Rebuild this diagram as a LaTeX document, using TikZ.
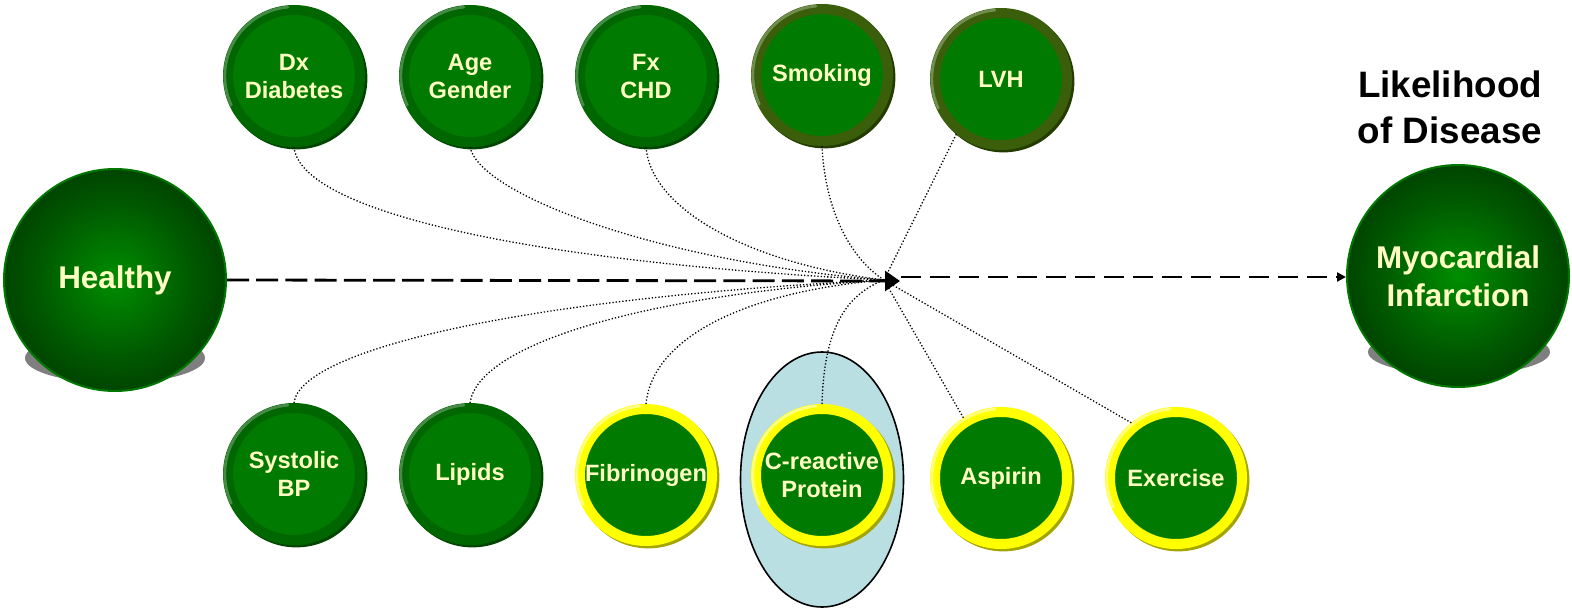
\documentclass[tikz,border=0pt]{standalone}
\usepackage{fontspec}
\setmainfont{Liberation Sans}
\usetikzlibrary{arrows.meta,shadows}

\definecolor{leafgreen}{HTML}{007A00}
\definecolor{ringgreen}{HTML}{006600}
\definecolor{ringshade}{HTML}{004600}
\definecolor{ringlight}{HTML}{5A955A}
\definecolor{olivering}{HTML}{3B5E0B}
\definecolor{oliveshade}{HTML}{243C00}
\definecolor{olivelight}{HTML}{7F9A62}
\definecolor{yellowring}{HTML}{FFFF00}
\definecolor{yellowshade}{HTML}{A5A500}
\definecolor{yellowlight}{HTML}{FFFF9A}
\definecolor{cream}{HTML}{FFFFC4}
\definecolor{ballcore}{HTML}{008E00}
\definecolor{ballmid}{HTML}{005A00}
\definecolor{balledge}{HTML}{003000}
\definecolor{ballrim}{HTML}{007800}
\definecolor{halo}{HTML}{7F7F7F}
\definecolor{capsule}{HTML}{B9DFE2}

\pgfdeclareradialshading{ballshade}{\pgfpoint{0bp}{0bp}}{color(0bp)=(ballcore); color(17bp)=(ballmid); color(33bp)=(balledge); color(50bp)=(balledge)}

\tikzset{
  factor/.style={circle, minimum size=66pt, inner sep=0pt, line width=5pt,
    fill=leafgreen, text=cream, align=center,
    font=\fontsize{11.8}{14}\selectfont\bfseries},
  greenfactor/.style={factor, draw=ringgreen,
    drop shadow={shadow xshift=1.1pt, shadow yshift=-1.1pt, shadow scale=1.076, fill=ringshade, opacity=1}},
  olivefactor/.style={factor, draw=olivering,
    drop shadow={shadow xshift=1.1pt, shadow yshift=-1.1pt, shadow scale=1.076, fill=oliveshade, opacity=1}},
  yellowfactor/.style={factor, draw=yellowring,
    drop shadow={shadow xshift=1.1pt, shadow yshift=-1.1pt, shadow scale=1.076, fill=yellowshade, opacity=1}},
  gloss/.style={line width=1.4pt, opacity=0.8, line cap=round},
  bigstate/.style={circle, minimum size=111pt, inner sep=0pt, line width=1pt,
    draw=ballrim, shading=ballshade, text=cream, align=center,
    font=\fontsize{15.7}{19}\selectfont\bfseries},
  link/.style={line width=0.65pt, dash pattern=on 0.65pt off 1pt},
  mainflow/.style={line width=1.4pt, dash pattern=on 11pt off 3.6pt,
    -{Triangle[length=7.5pt, width=10pt]}},
  outflow/.style={line width=1.1pt, dash pattern=on 10pt off 4.5pt,
    -{Triangle[length=4.5pt, width=4.5pt]}},
}

\begin{document}
\begin{tikzpicture}[x=0.5pt, y=-0.5pt]
  \useasboundingbox (0,0) rectangle (1572,610);

  % grey ground shadows under the two end states
  \fill[halo] (115,358) ellipse [x radius=90, y radius=25];
  \fill[halo] (1459,352) ellipse [x radius=91, y radius=23];

  % highlight behind the C-reactive protein factor
  \draw[fill=capsule, line width=0.8pt] (822,479.5) ellipse [x radius=81.5, y radius=127.5];

  % end states
  \node[bigstate] (healthy) at (115,280) {Healthy};
  \node[bigstate] (mi) at (1458,276) {Myocardial\\Infarction};
  \node[font=\fontsize{18.4}{23}\selectfont\bfseries, align=center, inner sep=0pt]
    (title) at (1450,107) {Likelihood\\of Disease};

  % risk factors, upper row
  \node[greenfactor] (dx) at (294,76) {Dx\\Diabetes};
  \node[greenfactor] (age) at (470,76) {Age\\Gender};
  \node[greenfactor] (fx) at (646,76) {Fx\\CHD};
  \node[olivefactor] (smoke) at (822,75) {Smoking};
  \node[olivefactor] (lvh) at (1001,79) {LVH};

  % risk factors, lower row
  \node[greenfactor] (sbp) at (294,474) {Systolic\\BP};
  \node[greenfactor] (lip) at (470,474) {Lipids};
  \node[yellowfactor] (fib) at (646,475) {Fibrinogen};
  \node[yellowfactor] (crp) at (822,475) {C-reactive\\Protein};
  \node[yellowfactor] (asp) at (1001,478) {Aspirin};
  \node[yellowfactor] (ex) at (1176,478) {Exercise};

  % light bevel on the upper left of each ring
  \foreach \n in {dx,age,fx,sbp,lip}
    \draw[gloss, ringlight] (\n.center) ++(95:34.6pt) arc[start angle=95, end angle=205, radius=34.6pt];
  \foreach \n in {smoke,lvh}
    \draw[gloss, olivelight] (\n.center) ++(95:34.6pt) arc[start angle=95, end angle=205, radius=34.6pt];
  \foreach \n in {fib,crp,asp,ex}
    \draw[gloss, yellowlight] (\n.center) ++(95:34.6pt) arc[start angle=95, end angle=205, radius=34.6pt];

  % meeting point of all influences
  \coordinate (hub) at (884,280);
  \coordinate (tip) at (900,281);
  \coordinate (relay) at (901,277);

  % influences
  \draw[link] (dx.south) .. controls (300,210) and (520,262) .. (hub);
  \draw[link] (age.south) .. controls (480,195) and (660,262) .. (hub);
  \draw[link] (fx.south) .. controls (650,205) and (740,262) .. (hub);
  \draw[link] (smoke.south) .. controls (825,210) and (850,258) .. (hub);
  \draw[link] (lvh.-129) -- (hub);
  \draw[link] (sbp.north) .. controls (300,350) and (520,298) .. (hub);
  \draw[link] (lip.north) .. controls (478,345) and (640,295) .. (hub);
  \draw[link] (fib.north) .. controls (652,340) and (740,292) .. (hub);
  \draw[link] (crp.north) .. controls (824,330) and (845,295) .. (hub);
  \draw[link] (asp.122) -- (hub);
  \draw[link] (ex.129) -- (hub);

  % progression from health to disease
  \draw[mainflow] (healthy.east |- 0,280) -- (tip);
  \draw[outflow] (relay) -- (mi.west |- 0,277);
\end{tikzpicture}
\end{document}
